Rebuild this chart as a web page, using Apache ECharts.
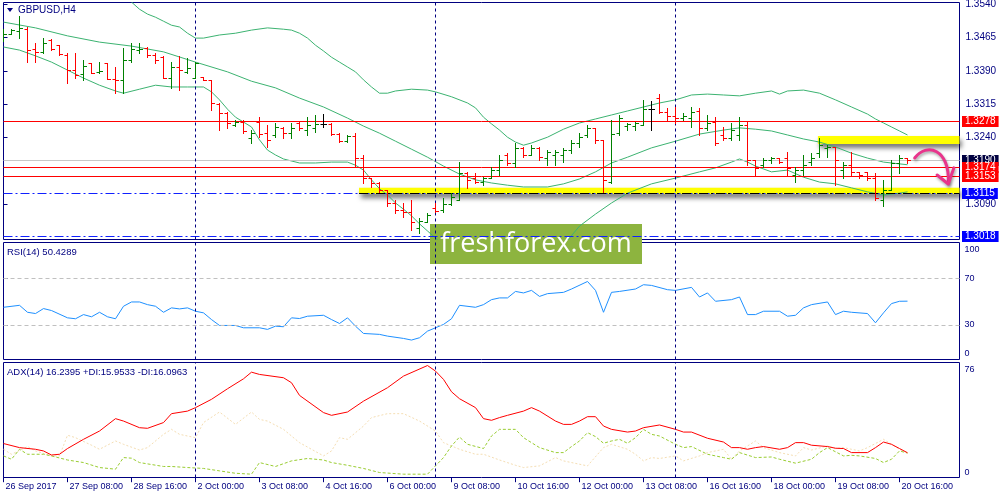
<!DOCTYPE html>
<html><head><meta charset="utf-8">
<script src="https://cdn.jsdelivr.net/npm/echarts@6/dist/echarts.min.js"></script>
<style>html,body{margin:0;padding:0;background:#fff}#c{width:1000px;height:500px}</style>
</head><body><div id="c"></div>
<script>
// ---------- DATA ----------
const xLabels = ['26 Sep 2017','27 Sep 08:00','28 Sep 16:00','2 Oct 00:00','3 Oct 08:00','4 Oct 16:00','6 Oct 00:00','9 Oct 08:00','10 Oct 16:00','12 Oct 00:00','13 Oct 08:00','16 Oct 16:00','18 Oct 00:00','19 Oct 08:00','20 Oct 16:00'];
const xLabelIdx = [0,8,16,24,32,40,48,56,64,72,80,88,96,104,112];
const weekSeparators = [24,54,84];
const priceTicks = [1.3540,1.3465,1.3390,1.3315,1.3240,1.3090];

const open = [1.3467,1.3473,1.3480,1.3485,1.3440,1.3433,1.3460,1.3449,1.3426,1.3392,
1.3383,1.3408,1.3388,1.3408,1.3372,1.3370,1.3415,1.3437,1.3442,1.3426,
1.3421,1.3374,1.3399,1.3388,1.3374,1.3376,1.3370,1.3316,1.3296,1.3268,
1.3275,1.3239,1.3275,1.3251,1.3246,1.3262,1.3251,1.3273,1.3257,1.3262,
1.3271,1.3271,1.3248,1.3232,1.3244,1.3194,1.3149,1.3138,1.3122,1.3093,
1.3077,1.3073,1.3037,1.3050,1.3082,1.3077,1.3091,1.3100,1.3161,1.3149,
1.3140,1.3149,1.3167,1.3201,1.3183,1.3217,1.3201,1.3217,1.3194,1.3201,
1.3201,1.3212,1.3228,1.3246,1.3262,1.3235,1.3140,1.3251,1.3266,1.3266,
1.3268,1.3305,1.3329,1.3298,1.3289,1.3284,1.3284,1.3300,1.3262,1.3275,
1.3246,1.3239,1.3246,1.3268,1.3190,1.3178,1.3190,1.3194,1.3194,1.3156,
1.3167,1.3185,1.3206,1.3217,1.3219,1.3167,1.3178,1.3163,1.3163,1.3149,
1.3100,1.3122,1.3183,1.3194];
const high = [1.3485,1.3485,1.3514,1.3489,1.3453,1.3464,1.3462,1.3449,1.3431,1.3431,
1.3415,1.3408,1.3410,1.3408,1.3399,1.3442,1.3453,1.3453,1.3444,1.3431,
1.3424,1.3410,1.3424,1.3419,1.3410,1.3377,1.3370,1.3318,1.3298,1.3280,
1.3280,1.3257,1.3286,1.3268,1.3273,1.3264,1.3273,1.3275,1.3286,1.3291,
1.3293,1.3273,1.3251,1.3246,1.3251,1.3201,1.3149,1.3140,1.3122,1.3100,
1.3093,1.3100,1.3059,1.3070,1.3093,1.3104,1.3115,1.3185,1.3163,1.3161,
1.3152,1.3174,1.3201,1.3206,1.3228,1.3219,1.3224,1.3219,1.3212,1.3212,
1.3217,1.3235,1.3251,1.3268,1.3262,1.3235,1.3280,1.3291,1.3273,1.3275,
1.3325,1.3323,1.3338,1.3307,1.3309,1.3296,1.3309,1.3307,1.3291,1.3286,
1.3264,1.3273,1.3286,1.3275,1.3190,1.3194,1.3196,1.3194,1.3208,1.3174,
1.3201,1.3206,1.3239,1.3224,1.3219,1.3185,1.3208,1.3163,1.3163,1.3161,
1.3145,1.3190,1.3201,1.3194];
const low = [1.3458,1.3473,1.3464,1.3410,1.3410,1.3431,1.3437,1.3426,1.3363,1.3374,
1.3370,1.3386,1.3386,1.3372,1.3341,1.3341,1.3410,1.3431,1.3421,1.3408,
1.3374,1.3352,1.3347,1.3386,1.3374,1.3370,1.3302,1.3257,1.3262,1.3266,
1.3251,1.3228,1.3242,1.3219,1.3242,1.3239,1.3239,1.3257,1.3246,1.3253,
1.3264,1.3246,1.3230,1.3230,1.3174,1.3138,1.3129,1.3118,1.3086,1.3070,
1.3061,1.3032,1.3025,1.3050,1.3073,1.3073,1.3088,1.3100,1.3127,1.3138,
1.3133,1.3149,1.3156,1.3178,1.3174,1.3196,1.3201,1.3190,1.3178,1.3178,
1.3185,1.3206,1.3219,1.3242,1.3228,1.3118,1.3138,1.3246,1.3257,1.3257,
1.3268,1.3257,1.3296,1.3280,1.3273,1.3280,1.3264,1.3246,1.3257,1.3224,
1.3235,1.3235,1.3235,1.3178,1.3156,1.3174,1.3183,1.3183,1.3156,1.3140,
1.3156,1.3178,1.3196,1.3196,1.3134,1.3149,1.3156,1.3149,1.3145,1.3100,
1.3086,1.3122,1.3161,1.3183];
const close = [1.3473,1.3482,1.3487,1.3437,1.3433,1.3453,1.3440,1.3428,1.3392,1.3381,
1.3401,1.3386,1.3390,1.3372,1.3370,1.3415,1.3440,1.3440,1.3426,1.3415,
1.3374,1.3399,1.3392,1.3397,1.3408,1.3370,1.3318,1.3296,1.3273,1.3275,
1.3255,1.3251,1.3248,1.3235,1.3264,1.3251,1.3262,1.3262,1.3268,1.3271,
1.3271,1.3248,1.3232,1.3244,1.3194,1.3149,1.3138,1.3122,1.3093,1.3077,
1.3073,1.3050,1.3052,1.3066,1.3075,1.3091,1.3106,1.3161,1.3145,1.3140,
1.3149,1.3167,1.3190,1.3183,1.3217,1.3201,1.3217,1.3196,1.3208,1.3208,
1.3212,1.3228,1.3242,1.3262,1.3235,1.3145,1.3248,1.3284,1.3271,1.3273,
1.3305,1.3305,1.3298,1.3289,1.3284,1.3289,1.3298,1.3262,1.3273,1.3228,
1.3239,1.3257,1.3268,1.3190,1.3172,1.3190,1.3194,1.3185,1.3172,1.3167,
1.3178,1.3194,1.3224,1.3219,1.3190,1.3178,1.3163,1.3156,1.3149,1.3104,
1.3122,1.3183,1.3194,1.3190];

// Bollinger bands [bar index, price]
const bbUpper = [[15,1.3568],[16,1.3545],[17,1.3529],[18,1.3518],[19,1.3511],[20,1.3502],[21,1.3493],[22,1.3489],[23,1.3475],[24,1.3464],[25,1.3464],[27,1.3471],[29,1.3475],[31,1.3482],[33,1.3487],[35,1.3484],[36,1.3482],[37,1.3475],[38,1.3464],[39,1.3448],[40,1.3435],[41,1.3421],[42,1.3410],[43,1.3399],[44,1.3388],[45,1.3370],[46,1.3354],[47,1.3340],[48,1.3340],[49,1.3345],[51,1.3349],[53,1.3347],[54,1.3343],[56,1.3332],[58,1.3318],[59,1.3307],[60,1.3286],[61,1.3271],[62,1.3257],[63,1.3241],[64,1.3230],[65,1.3223],[66,1.3228],[68,1.3241],[70,1.3259],[72,1.3273],[74,1.3282],[76,1.3291],[78,1.3300],[80,1.3309],[82,1.3318],[84,1.3325],[86,1.3336],[88,1.3338],[90,1.3336],[92,1.3334],[94,1.3340],[96,1.3345],[97,1.3338],[98,1.3345],[100,1.3347],[102,1.3340],[104,1.3325],[106,1.3309],[108,1.3293],[109,1.3282],[110,1.3273],[111,1.3264],[112,1.3255],[113,1.3246]];
const bbMiddle = [[0,1.3500],[4,1.3487],[8,1.3469],[12,1.3455],[16,1.3446],[20,1.3433],[24,1.3410],[28,1.3388],[31,1.3367],[34,1.3352],[37,1.3329],[40,1.3309],[43,1.3284],[45,1.3266],[47,1.3250],[49,1.3232],[51,1.3214],[53,1.3196],[55,1.3176],[57,1.3158],[59,1.3145],[61,1.3138],[63,1.3133],[65,1.3129],[68,1.3129],[70,1.3136],[72,1.3147],[74,1.3163],[76,1.3183],[78,1.3196],[81,1.3217],[84,1.3232],[87,1.3248],[90,1.3257],[92,1.3262],[94,1.3259],[96,1.3255],[98,1.3246],[100,1.3237],[102,1.3230],[104,1.3219],[106,1.3205],[108,1.3194],[110,1.3185],[112,1.3181],[113,1.3179]];
const bbLower = [[0,1.3444],[2,1.3437],[4,1.3424],[6,1.3410],[8,1.3392],[10,1.3374],[12,1.3358],[14,1.3345],[15,1.3340],[17,1.3349],[19,1.3358],[21,1.3354],[23,1.3354],[25,1.3354],[26,1.3343],[27,1.3325],[28,1.3304],[29,1.3286],[30,1.3275],[31,1.3264],[32,1.3235],[33,1.3212],[34,1.3201],[35,1.3192],[37,1.3183],[39,1.3183],[41,1.3185],[43,1.3185],[44,1.3178],[45,1.3167],[46,1.3145],[47,1.3125],[48,1.3111],[49,1.3093],[50,1.3079],[51,1.3064],[52,1.3046],[53,1.3030],[54,1.3014],[55,1.2998],[58,1.2969],[62,1.2960],[66,1.2965],[70,1.2998],[72,1.3041],[74,1.3068],[76,1.3093],[78,1.3115],[81,1.3136],[84,1.3149],[87,1.3163],[89,1.3172],[91,1.3185],[92,1.3192],[93,1.3185],[94,1.3176],[96,1.3163],[98,1.3167],[100,1.3151],[102,1.3140],[104,1.3136],[106,1.3127],[108,1.3118],[110,1.3111],[112,1.3115],[113,1.3118]];

const rsi = [[0,45.1],[2,46.8],[3,40.8],[4,39.7],[5,44.0],[6,42.3],[8,36.0],[9,35.2],[10,38.8],[11,36.9],[12,40.8],[13,36.9],[14,35.2],[15,46.0],[16,49.7],[17,49.7],[18,47.4],[19,46.0],[20,40.8],[21,44.6],[22,43.7],[23,44.6],[24,41.7],[25,40.3],[26,34.5],[27,29.4],[28,29.4],[29,29.4],[30,27.4],[32,27.4],[33,26.0],[34,28.8],[35,28.3],[36,36.0],[37,35.4],[38,37.4],[40,38.2],[41,34.5],[42,31.1],[43,36.0],[44,28.8],[45,22.5],[47,21.7],[48,20.2],[50,18.2],[51,16.8],[52,18.8],[53,24.5],[55,30.3],[56,35.2],[57,46.8],[59,45.1],[60,47.4],[61,51.7],[62,53.2],[63,53.2],[64,58.8],[65,57.5],[66,59.7],[67,54.5],[68,56.9],[70,58.0],[71,60.9],[73,67.4],[74,59.7],[75,40.8],[76,58.0],[77,58.8],[79,60.9],[80,64.6],[81,64.0],[83,60.3],[84,59.7],[86,62.3],[87,54.0],[88,57.5],[89,50.3],[91,51.7],[92,54.0],[93,38.8],[94,38.8],[95,41.7],[97,41.7],[98,37.4],[99,38.2],[100,44.6],[101,47.4],[103,49.7],[104,38.8],[105,41.7],[106,40.8],[108,39.7],[109,31.7],[110,40.3],[111,48.3],[112,50.3],[113,50.4]];
const rsiLevels = [30,70];

const adx = [[0,22.3],[2,19.6],[4,18.5],[5,17.4],[6,14.7],[7,15.2],[8,19.0],[10,25.1],[12,30.6],[14,38.8],[15,37.2],[17,32.8],[18,32.4],[20,36.2],[21,42.1],[23,43.8],[24,46.1],[26,51.6],[28,58.6],[30,65.2],[31,69.6],[32,68.1],[35,65.9],[36,62.6],[37,54.2],[40,42.8],[41,41.0],[43,43.2],[45,50.4],[48,59.3],[50,67.0],[53,74.0],[54,70.3],[55,64.8],[56,56.6],[57,52.0],[59,46.1],[60,38.8],[61,37.7],[62,39.5],[63,41.0],[65,43.8],[66,46.1],[67,43.8],[69,37.2],[70,35.0],[71,35.0],[72,37.2],[73,40.1],[74,40.1],[75,33.9],[76,31.7],[78,29.9],[79,30.6],[80,32.8],[82,34.6],[84,31.7],[85,29.9],[86,29.9],[88,25.8],[90,23.3],[91,19.6],[92,19.6],[93,18.5],[94,19.6],[95,20.3],[97,18.5],[98,19.6],[99,22.9],[100,22.9],[101,21.2],[103,20.3],[104,19.2],[105,19.0],[106,16.3],[108,16.3],[109,19.6],[110,23.3],[111,21.8],[112,19.0],[113,16.2]];
const plusDI = [[0,14.1],[1,11.9],[2,18.5],[3,15.2],[5,15.2],[6,14.1],[8,11.4],[10,9.7],[12,6.4],[14,5.3],[15,13.0],[16,12.6],[17,9.7],[20,7.1],[21,7.1],[23,6.4],[25,5.8],[27,4.2],[29,2.6],[31,2.0],[32,9.7],[34,7.1],[36,10.8],[38,12.4],[40,11.4],[41,9.7],[43,7.9],[45,5.8],[47,3.1],[50,2.0],[53,2.0],[54,7.5],[55,13.0],[56,20.7],[57,26.6],[58,21.8],[60,19.0],[61,27.3],[62,31.7],[64,31.7],[65,26.2],[67,19.6],[69,16.3],[70,16.3],[71,20.3],[72,24.0],[73,29.5],[74,26.9],[75,22.5],[76,24.0],[77,25.1],[78,22.5],[79,26.2],[80,31.7],[81,28.4],[82,27.3],[84,21.8],[85,19.6],[86,20.3],[88,15.2],[90,13.0],[91,11.9],[92,16.3],[94,13.0],[96,13.4],[97,11.9],[99,9.3],[101,11.9],[102,16.3],[103,19.6],[105,14.1],[106,14.5],[107,14.1],[109,12.4],[110,9.7],[111,11.9],[112,17.4],[113,16.0]];
const minusDI = [[0,18.5],[1,15.2],[3,20.3],[4,17.4],[6,14.1],[7,14.1],[8,27.8],[9,26.2],[11,21.2],[12,18.5],[14,24.0],[15,21.8],[17,18.0],[18,19.6],[20,28.4],[21,31.7],[22,28.4],[24,26.2],[25,36.2],[27,43.2],[29,35.0],[31,43.2],[32,38.3],[33,37.2],[35,31.7],[37,22.9],[40,14.1],[41,17.4],[42,26.2],[43,25.1],[45,33.9],[46,39.5],[48,42.1],[50,42.1],[52,37.2],[54,30.6],[55,22.9],[57,18.5],[59,15.2],[60,15.2],[62,11.4],[64,7.9],[65,6.4],[67,7.5],[69,13.0],[70,10.8],[73,7.5],[75,19.6],[76,21.8],[78,18.5],[79,15.2],[80,10.8],[81,13.0],[82,12.4],[84,14.1],[85,10.8],[87,14.1],[88,16.3],[90,18.5],[91,11.9],[92,17.4],[94,24.0],[95,19.6],[97,16.3],[99,14.1],[100,19.6],[101,18.0],[103,20.7],[104,19.0],[105,19.6],[107,17.4],[108,19.6],[110,25.1],[111,21.8],[112,18.5],[113,16.1]];

// horizontal levels and highlighted zones (bar index start, price top, price bottom)
const redLevels = [1.3278,1.3174,1.3153];
const blueLevels = [1.3115,1.3018];
const bidPrice = 1.3190;
const zones = [[44.44,1.31274,1.31132],[101.8,1.32437,1.32257]];
// drawn forecast arrow anchor points [bar index, price]
const arrowCurve = [[113.9,1.31942],[115.4,1.32300],[118.3,1.32150],[118.1,1.31380]];
const arrowHead = [[116.7,1.31560],[118.1,1.31357],[118.8,1.31720]];

// ---------- CHART ----------
const FONT = '"Liberation Sans", Arial, sans-serif';
const NAVY = '#000080';
const IDX_MAX = 119.5;
const chart = echarts.init(document.getElementById('c'), null, {renderer:'canvas'});

function gridDef(top, h){ return {left:3.5, top:top, width:956, height:h, show:true, borderColor:NAVY, borderWidth:1, backgroundColor:'#fff', containLabel:false, outerBoundsMode:'none'}; }
function hiddenX(g){ return {gridIndex:g, type:'value', min:0, max:IDX_MAX, show:false}; }
const sepMark = {silent:true, symbol:['none','none'], animation:false, label:{show:false}, z:5,
  lineStyle:{color:NAVY, type:[3,3], width:1}, data: weekSeparators.map(v => ({xAxis:v}))};

const levelData = [];
levelData.push({yAxis:bidPrice, lineStyle:{color:'#C8C8C8', type:'solid', width:1}});
blueLevels.forEach(v => levelData.push({yAxis:v, lineStyle:{color:'#1020FF', type:[9,3,2,3], width:1}}));
redLevels.forEach(v => levelData.push({yAxis:v, lineStyle:{color:'#FF0000', type:'solid', width:1}}));
levelData.push([{xAxis:zones[0][0], yAxis:blueLevels[0], lineStyle:{color:'#000000', type:[9,3,2,3], width:1.2}}, {xAxis:IDX_MAX, yAxis:blueLevels[0]}]);

const ohlc = open.map((o,i)=>[i,o,high[i],low[i],close[i]]);

const option = {
  animation:false,
  backgroundColor:'#ffffff',
  grid:[gridDef(2.5,237), gridDef(242.5,117), gridDef(362.5,115)],
  xAxis:[hiddenX(0), hiddenX(1), {
    gridIndex:2, type:'value', min:0, max:IDX_MAX,
    axisLine:{show:false}, splitLine:{show:false},
    axisTick:{show:true, customValues:xLabelIdx, length:5, lineStyle:{color:NAVY}},
    axisLabel:{show:true, customValues:xLabelIdx, formatter:v=>xLabels[xLabelIdx.indexOf(v)],
      align:'left', color:NAVY, fontSize:9, fontFamily:FONT, margin:5, padding:[0,0,0,2]}
  }],
  yAxis:[{
    gridIndex:0, type:'value', position:'right', min:1.30108, max:1.35441,
    axisLine:{show:false}, splitLine:{show:false},
    axisTick:{show:true, customValues:priceTicks, length:4, lineStyle:{color:NAVY}},
    axisLabel:{customValues:priceTicks, formatter:v=>v.toFixed(4), color:NAVY, fontSize:10, fontFamily:FONT, margin:6}
  },{
    gridIndex:1, type:'value', position:'right', min:0, max:101.07,
    axisLine:{show:false}, splitLine:{show:false},
    axisTick:{show:true, customValues:[30,70], length:4, lineStyle:{color:NAVY}},
    axisLabel:{customValues:[0,30,70,100], color:NAVY, fontSize:9, fontFamily:FONT, margin:5,
      formatter:v=> v===100 ? '{t|100}' : (v===0 ? '{b|0}' : String(v)),
      rich:{t:{padding:[11,0,0,0], color:NAVY, fontSize:9, fontFamily:FONT}, b:{padding:[0,0,12,0], color:NAVY, fontSize:9, fontFamily:FONT}}}
  },{
    gridIndex:2, type:'value', position:'right', min:-0.2, max:76,
    axisLine:{show:false}, splitLine:{show:false},
    axisTick:{show:false},
    axisLabel:{customValues:[0,76], color:NAVY, fontSize:9, fontFamily:FONT, margin:5,
      formatter:v=> v===76 ? '{t|76}' : '{b|0}',
      rich:{t:{padding:[15,0,0,0], color:NAVY, fontSize:9, fontFamily:FONT}, b:{padding:[0,0,9,0], color:NAVY, fontSize:9, fontFamily:FONT}}}
  }],
  series:[
    {type:'line', xAxisIndex:0, yAxisIndex:0, data:[], z:1, silent:true,
      markArea:{silent:true, z:1, itemStyle:{color:'#FFFF00', shadowColor:'rgba(0,0,0,0.55)', shadowBlur:5, shadowOffsetX:2, shadowOffsetY:4},
        data: zones.map(z=>[{xAxis:z[0], yAxis:z[1]},{xAxis:IDX_MAX, yAxis:z[2]}])}},
    {type:'line', xAxisIndex:0, yAxisIndex:0, data:bbUpper, showSymbol:false, symbol:'none', z:3, lineStyle:{color:'#3CB371', width:1}},
    {type:'line', xAxisIndex:0, yAxisIndex:0, data:bbMiddle, showSymbol:false, symbol:'none', z:3, lineStyle:{color:'#3CB371', width:1}, markLine:sepMark},
    {type:'line', xAxisIndex:0, yAxisIndex:0, data:bbLower, showSymbol:false, symbol:'none', z:3, lineStyle:{color:'#3CB371', width:1}},
    {type:'line', xAxisIndex:0, yAxisIndex:0, data:[], z:4, silent:true,
      markLine:{silent:true, z:4, symbol:['none','none'], precision:4, animation:false, label:{show:false}, data:levelData}},
    {type:'custom', xAxisIndex:0, yAxisIndex:0, z:5, clip:true, data:ohlc,
      encode:{x:0, y:[1,2,3,4]},
      renderItem:function(params, api){
        const i=api.value(0), o=api.value(1), h=api.value(2), l=api.value(3), c=api.value(4);
        const pH=api.coord([i,h]), pL=api.coord([i,l]), pO=api.coord([i,o]), pC=api.coord([i,c]);
        const x=Math.floor(pH[0])+0.5;
        const yo=Math.round(pO[1])+0.5, yc=Math.round(pC[1])+0.5;
        const color = c>o ? '#008000' : (c<o ? '#FF0000' : '#000000');
        const st={stroke:color, lineWidth:1};
        return {type:'group', children:[
          {type:'line', shape:{x1:x, y1:Math.round(pH[1]), x2:x, y2:Math.round(pL[1])+1}, style:st},
          {type:'line', shape:{x1:x-3, y1:yo, x2:x, y2:yo}, style:st},
          {type:'line', shape:{x1:x, y1:yc, x2:x+3.5, y2:yc}, style:st}
        ]};
      }},
    {type:'line', xAxisIndex:1, yAxisIndex:1, data:rsi, showSymbol:false, symbol:'none', z:3, lineStyle:{color:'#1E90FF', width:1},
      markLine:{silent:true, symbol:['none','none'], animation:false, label:{show:false},
        data: rsiLevels.map(v=>({yAxis:v, lineStyle:{color:'#C0C0C0', type:[4,3], width:1}})).concat(
              weekSeparators.map(v=>({xAxis:v, lineStyle:{color:NAVY, type:[3,3], width:1}})))}},
    {type:'line', xAxisIndex:2, yAxisIndex:2, data:minusDI, showSymbol:false, symbol:'none', z:2, lineStyle:{color:'#F5DEB3', width:1, type:[2,2]}},
    {type:'line', xAxisIndex:2, yAxisIndex:2, data:plusDI, showSymbol:false, symbol:'none', z:2, lineStyle:{color:'#9ACD32', width:1, type:[3,2]}},
    {type:'line', xAxisIndex:2, yAxisIndex:2, data:adx, showSymbol:false, symbol:'none', z:3, lineStyle:{color:'#FF0000', width:1}, markLine:sepMark}
  ],
  graphic:[
    {id:'tri', type:'polygon', shape:{points:[[7,8],[13,8],[10,12]]}, style:{fill:NAVY}, z:50},
    {id:'title', type:'text', x:18, y:10, style:{text:'GBPUSD,H4', fill:NAVY, font:'10px '+FONT, verticalAlign:'middle'}, z:50},
    {id:'rsiTxt', type:'text', x:7, y:252, style:{text:'RSI(14) 50.4289', fill:NAVY, font:'9.5px '+FONT, verticalAlign:'middle'}, z:50},
    {id:'adxTxt', type:'text', x:7, y:372, style:{text:'ADX(14) 16.2395 +DI:15.9533 -DI:16.0963', fill:NAVY, font:'9.5px '+FONT, verticalAlign:'middle'}, z:50},
    {id:'wm', type:'group', z:60, children:[
      {type:'rect', shape:{x:430, y:224, width:212, height:40}, style:{fill:'#8DB43F'}},
      {type:'text', x:536, y:244, style:{text:'freshforex.com', fill:'#ffffff', font:'27px "Open Sans", sans-serif', align:'center', verticalAlign:'middle'}}
    ]}
  ]
};
chart.setOption(option);

// price-level tags and forecast arrow, placed through the price grid's scales
const toPx = p => chart.convertToPixel({gridIndex:0}, p);
const rightX = toPx([IDX_MAX, bidPrice])[0];
function tag(id, price, bg, z){
  const y = toPx([0, price])[1];
  return {id:id, type:'text', z:z, x:rightX+2.5, y:Math.round(y)+0.5,
    style:{text:price.toFixed(4), fill:'#ffffff', font:'10px '+FONT, verticalAlign:'middle',
      backgroundColor:bg, padding:[1,3,0,3], lineHeight:10}};
}
const tags = [tag('tagBid', bidPrice, '#000040', 70)];
blueLevels.forEach((v,k)=>tags.push(tag('tagB'+k, v, '#0000FF', 71)));
redLevels.forEach((v,k)=>tags.push(tag('tagR'+k, v, '#FF0000', 72)));

const c0 = toPx(arrowCurve[0]), c1 = toPx(arrowCurve[1]), c2 = toPx(arrowCurve[2]), c3 = toPx(arrowCurve[3]);
const h0 = toPx(arrowHead[0]), h1 = toPx(arrowHead[1]), h2 = toPx(arrowHead[2]);
const arrowStyle = {stroke:'#E8358C', lineWidth:3, fill:null, lineCap:'round', lineJoin:'round', shadowBlur:3, shadowColor:'rgba(0,0,0,0.35)', shadowOffsetX:1, shadowOffsetY:2};
chart.setOption({graphic: tags.concat([
  {id:'arrowCurve', type:'bezierCurve', z:40, shape:{x1:c0[0], y1:c0[1], cpx1:c1[0], cpy1:c1[1], cpx2:c2[0], cpy2:c2[1], x2:c3[0], y2:c3[1]}, style:arrowStyle},
  {id:'arrowHead', type:'polyline', z:40, shape:{points:[h0,h1,h2]}, style:arrowStyle}
])});
</script>
</body></html>
